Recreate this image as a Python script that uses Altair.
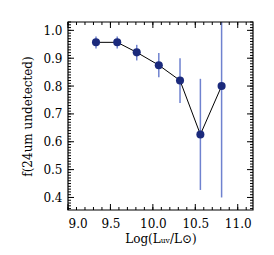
import altair as alt
import pandas as pd
import numpy as np

# data
log_luv = [9.33, 9.58, 9.81, 10.07, 10.32, 10.56, 10.81]
frac = [0.957, 0.957, 0.921, 0.875, 0.820, 0.626, 0.800]
err_lo = [0.935, 0.935, 0.892, 0.832, 0.739, 0.427, 0.400]
err_hi = [0.978, 0.978, 0.948, 0.919, 0.900, 0.826, 1.200]

x_major = [9.0, 9.5, 10.0, 10.5, 11.0]
y_major = [0.4, 0.5, 0.6, 0.7, 0.8, 0.9, 1.0]
x_minor = [round(9.0 + 0.1 * i, 2) for i in range(22)]
y_minor = [round(0.36 + 0.01 * i, 2) for i in range(68)]

XDOM = [9.0, 11.18]
YDOM = [0.355, 1.03]
W, H = 185, 188
FONT = "DejaVu Serif"

df = pd.DataFrame({"x": log_luv, "y": frac, "lo": err_lo, "hi": err_hi})

xs = alt.Scale(domain=XDOM, nice=False, zero=False)
ys = alt.Scale(domain=YDOM, nice=False, zero=False)

XA = alt.Axis(values=x_major, format=".1f", title="Log(Lᵤᵥ/L⊙)",
              ticks=False, domain=False, grid=False, labelOverlap=False,
              labelPadding=8, titlePadding=4)
YA = alt.Axis(values=y_major, format=".1f", title="f(24um undetected)",
              ticks=False, domain=False, grid=False, labelOverlap=False,
              labelPadding=6, titlePadding=8)

base = alt.Chart(df)

err = base.mark_rule(color="#6f82cf", strokeWidth=1.5, clip=True).encode(
    x=alt.X("x:Q", scale=xs, axis=XA),
    y=alt.Y("lo:Q", scale=ys, axis=YA),
    y2="hi:Q",
)

line = base.mark_line(color="black", strokeWidth=1).encode(
    x=alt.X("x:Q", scale=xs, axis=XA), y=alt.Y("y:Q", scale=ys, axis=YA))

pts = base.mark_circle(color="#1b2a7c", opacity=1, size=65).encode(
    x=alt.X("x:Q", scale=xs, axis=XA), y=alt.Y("y:Q", scale=ys, axis=YA))

frame = alt.Chart(pd.DataFrame({"a": [0]})).mark_rect(
    fill=None, stroke="black", strokeWidth=1.2).encode(
    x=alt.value(0), x2=alt.value(W), y=alt.value(0), y2=alt.value(H))

def xticks(vals, size):
    d = pd.DataFrame({"t": vals})
    bottom = alt.Chart(d).mark_rule(color="black", strokeWidth=1).encode(
        x=alt.X("t:Q", scale=xs, axis=XA), y=alt.value(H), y2=alt.value(H - size))
    top = alt.Chart(d).mark_rule(color="black", strokeWidth=1).encode(
        x=alt.X("t:Q", scale=xs, axis=XA), y=alt.value(0), y2=alt.value(size))
    return bottom + top

def yticks(vals, size):
    d = pd.DataFrame({"t": vals})
    left = alt.Chart(d).mark_rule(color="black", strokeWidth=1).encode(
        y=alt.Y("t:Q", scale=ys, axis=YA), x=alt.value(0), x2=alt.value(size))
    right = alt.Chart(d).mark_rule(color="black", strokeWidth=1).encode(
        y=alt.Y("t:Q", scale=ys, axis=YA), x=alt.value(W), x2=alt.value(W - size))
    return left + right

chart = alt.layer(
    err, line, pts, frame,
    xticks(x_minor, 3), xticks(x_major, 6),
    yticks(y_minor, 3), yticks(y_major, 6),
).properties(
    width=W, height=H,
    autosize=alt.AutoSizeParams(type="none"),
    padding={"left": 60, "top": 14, "right": 10, "bottom": 40},
).configure_view(stroke=None).configure_axis(
    labelFont=FONT, titleFont=FONT, labelFontSize=12, titleFontSize=12,
    titleFontWeight="normal", labelColor="black", titleColor="black",
    labelOverlap=False,
)

chart.save("out.html", embed_options={"renderer": "svg", "actions": False})
